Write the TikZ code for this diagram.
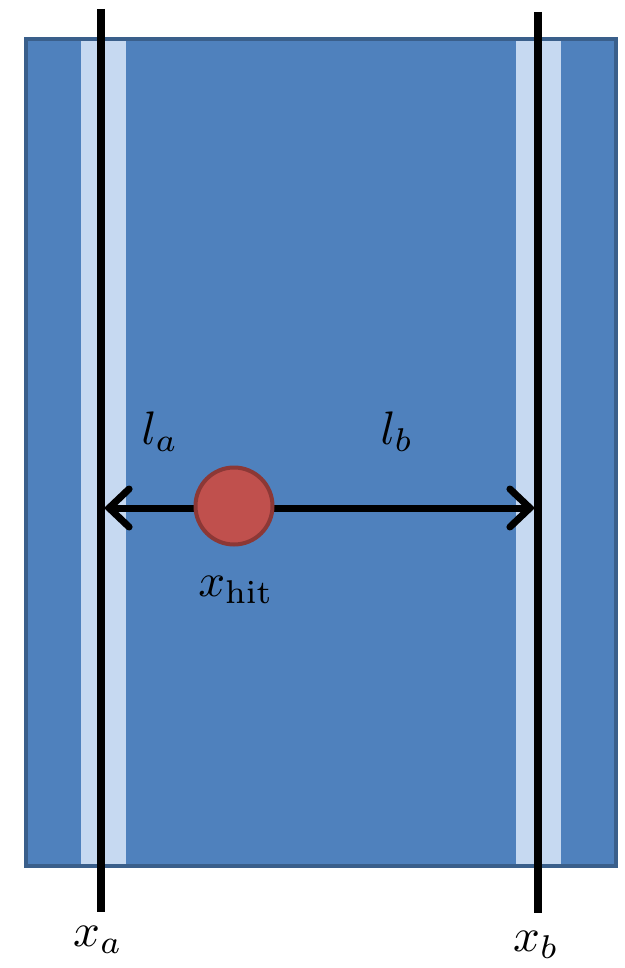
\documentclass[tikz,border=0pt]{standalone}
\usetikzlibrary{arrows.meta}
\definecolor{boxfill}{HTML}{4F81BD}
\definecolor{boxedge}{HTML}{3A5F8B}
\definecolor{strip}{HTML}{C6D9F1}
\definecolor{hitfill}{HTML}{C0504D}
\definecolor{hitedge}{HTML}{8C3836}
\tikzset{
  wire/.style={line width=8pt, black},
  lbl/.style={inner sep=0pt, scale=4.7},
  dim/.style={line width=7pt, black, {Straight Barb[length=20pt,width=38pt,line cap=round]}-{Straight Barb[length=20pt,width=38pt,line cap=round]}},
}
\begin{document}
\begin{tikzpicture}[x=1pt,y=-1pt]
\useasboundingbox (0,0) rectangle (624,968);
\draw[fill=boxfill, draw=boxedge, line width=3.5pt] (26,39) rectangle (616,866);
\fill[strip] (81,41) rectangle (126,864);
\fill[strip] (516,41) rectangle (561,864);
\coordinate (atop) at (101,9);
\coordinate (abot) at (101,912);
\coordinate (btop) at (538,12);
\coordinate (bbot) at (538,913);
\draw[wire] (atop) -- (abot);
\draw[wire] (btop) -- (bbot);
\coordinate (la) at (104,508);
\coordinate (lb) at (535,508);
\draw[dim] (la) -- (lb);
\node[circle, fill=hitfill, draw=hitedge, line width=4pt, minimum size=77pt, inner sep=0pt] (hit) at (234,506) {};
\node[lbl] (lal) at (160,432) {$l_a$};
\node[lbl] (lbl) at (397,432) {$l_b$};
\node[lbl] (xhit) at (236,590) {$x_{\mathrm{hit}}$};
\node[lbl] (xa) at (98,940) {$x_a$};
\node[lbl] (xb) at (536,945) {$x_b$};
\end{tikzpicture}
\end{document}
